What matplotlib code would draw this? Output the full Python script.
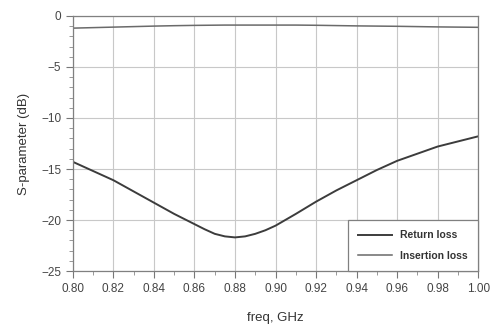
import numpy as np
import matplotlib.pyplot as plt
from matplotlib.ticker import MultipleLocator

plt.rcParams['font.family'] = ['Liberation Sans', 'DejaVu Sans']

# values
freq = [0.80, 0.81, 0.82, 0.83, 0.84, 0.85, 0.86, 0.865, 0.87, 0.875, 0.88, 0.885,
        0.89, 0.895, 0.90, 0.91, 0.92, 0.93, 0.94, 0.95, 0.96, 0.97, 0.98, 0.99, 1.00]
return_loss = [-14.3, -15.2, -16.1, -17.2, -18.3, -19.4, -20.4, -20.9, -21.35, -21.6, -21.7, -21.6,
               -21.35, -21.0, -20.55, -19.4, -18.2, -17.1, -16.1, -15.1, -14.2, -13.5, -12.8, -12.3, -11.8]
insertion_loss = [-1.2, -1.15, -1.1, -1.05, -1.0, -0.96, -0.93, -0.92, -0.91, -0.9, -0.9, -0.9,
                  -0.9, -0.9, -0.9, -0.9, -0.92, -0.95, -0.98, -1.0, -1.02, -1.05, -1.08, -1.1, -1.12]

fig = plt.figure(figsize=(4.96, 3.31), dpi=100)
ax = fig.add_axes([0.147, 0.181, 0.817, 0.771])

ax.plot(freq, return_loss, color='#3c3c3c', lw=1.4, label='Return loss')
ax.plot(freq, insertion_loss, color='#6a6a6a', lw=1.1, label='Insertion loss')

ax.set_xlim(0.80, 1.00)
ax.set_ylim(-25, 0)
ax.set_xticks(np.arange(0.80, 1.001, 0.02))
ax.set_xticklabels(['%.2f' % v for v in np.arange(0.80, 1.001, 0.02)])
ax.set_yticks([0, -5, -10, -15, -20, -25])
ax.xaxis.set_minor_locator(MultipleLocator(0.01))
ax.yaxis.set_minor_locator(MultipleLocator(1))
ax.tick_params(which='major', direction='out', length=5, width=0.8,
               color='#777777', labelsize=8.5, labelcolor='#444444')
ax.tick_params(which='minor', direction='out', length=3, width=0.6, color='#888888')
ax.grid(True, which='major', color='#c8c8c8', lw=0.8)

for s in ax.spines.values():
    s.set_color('#808080')
    s.set_linewidth(0.9)

ax.set_xlabel('freq, GHz', fontsize=9.5, color='#333333', labelpad=12)
ax.set_ylabel('S-parameter (dB)', fontsize=9.5, color='#333333', labelpad=8)

leg = ax.legend(loc='lower right', borderaxespad=0, fancybox=False,
                edgecolor='#808080', framealpha=1, fontsize=7.5,
                handlelength=3.2, borderpad=1.0, labelspacing=1.0,
                handletextpad=0.8)
for t in leg.get_texts():
    t.set_fontweight('bold')
    t.set_color('#333333')
leg.get_frame().set_linewidth(0.9)

fig.savefig('out.png', dpi=100)
